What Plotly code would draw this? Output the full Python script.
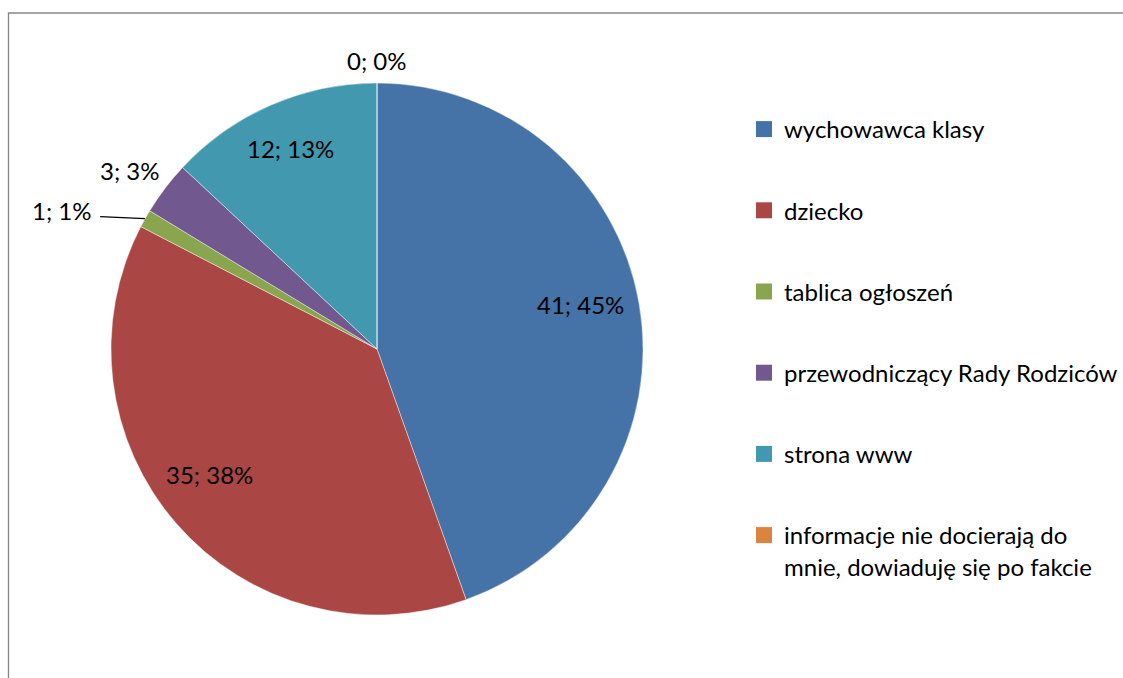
import math
import plotly.graph_objects as go

# ---- data ----
categories = [
    "wychowawca klasy",
    "dziecko",
    "tablica ogłoszeń",
    "przewodniczący Rady Rodziców",
    "strona www",
    "informacje nie docierają do<br>mnie, dowiaduję się po fakcie",
]
values = [41, 35, 1, 3, 12, 0]
colors = ["#4572A7", "#AA4643", "#89A54E", "#71588F", "#4198AF", "#DB843D"]

# ---- styling / layout ----
W, H = 1123, 678
cx, cy, R = 377, 349, 266
FONT = "Lato"
FS = 24
label_r = [0.775, 0.79, None, 1.15, 0.82, 1.08]   # None -> leader line label
label_nudge = [(0, -9), (-9, -13), (0, -3), (-3, 6), (0, 0), (0, -1)]  # pixel nudges

total = sum(values)

def px2paper(x, y):
    return x / W, 1 - y / H

fig = go.Figure()
fig.add_trace(go.Pie(
    labels=categories, values=values, sort=False, direction="clockwise",
    rotation=0, textinfo="none", hoverinfo="label+value+percent",
    marker=dict(colors=colors, line=dict(color="rgba(255,255,255,0.6)", width=0.7)),
    domain=dict(x=[(cx - R) / W, (cx + R) / W], y=[1 - (cy + R) / H, 1 - (cy - R) / H]),
    showlegend=False,
))

# legend via dummy traces (one group each for spacing)
for i, (c, col) in enumerate(zip(categories, colors)):
    fig.add_trace(go.Scatter(
        x=[None], y=[None], mode="markers", name=c, legendgroup=f"g{i}",
        marker=dict(symbol="square", size=16, color=col),
    ))

annotations = []
shapes = []
cum = 0
for v, rf, (ndx, ndy) in zip(values, label_r, label_nudge):
    theta = (cum + v / 2) / total * 2 * math.pi
    cum += v
    pct = round(v / total * 100)
    txt = f"{v}; {pct}%"
    if rf is None:
        ex = cx + R * math.sin(theta)
        ey = cy - R * math.cos(theta)
        lx = ex - 45
        ax_, ay_ = px2paper(ex, ey)
        bx_, by_ = px2paper(lx, ey - 2)
        shapes.append(dict(type="line", xref="paper", yref="paper", x0=ax_, y0=ay_,
                           x1=bx_, y1=by_, line=dict(color="black", width=1.3)))
        tx, ty = px2paper(lx - 6 + ndx, ey - 5 + ndy)
        annotations.append(dict(x=tx, y=ty, xref="paper", yref="paper", text=txt,
                                showarrow=False, xanchor="right", yanchor="middle",
                                font=dict(family=FONT, size=FS, color="black")))
    else:
        x = cx + rf * R * math.sin(theta) + ndx
        y = cy - rf * R * math.cos(theta) + ndy
        tx, ty = px2paper(x, y)
        annotations.append(dict(x=tx, y=ty, xref="paper", yref="paper", text=txt,
                                showarrow=False, xanchor="center", yanchor="middle",
                                font=dict(family=FONT, size=FS, color="black")))

# chart area border (top and left edges visible)
bx0, by0 = px2paper(8.5, 13)
bx1, by1 = px2paper(1140, 700)
shapes.append(dict(type="rect", xref="paper", yref="paper", x0=bx0, y0=by0, x1=bx1, y1=by1,
                   line=dict(color="#868686", width=1.3), layer="below"))

lx, ly = px2paper(744, 107)
fig.update_layout(
    width=W, height=H,
    margin=dict(l=0, r=0, t=0, b=0),
    paper_bgcolor="white", plot_bgcolor="white",
    xaxis=dict(visible=False), yaxis=dict(visible=False),
    font=dict(family=FONT, size=FS, color="black"),
    legend=dict(x=lx, y=ly, xanchor="left", yanchor="top", tracegroupgap=47,
                valign="top", font=dict(family=FONT, size=FS, color="black"),
                bgcolor="rgba(0,0,0,0)", itemsizing="trace"),
    annotations=annotations, shapes=shapes,
)

fig.write_html(
    "out.html",
    config={"displayModeBar": False},
    post_script="document.body.style.margin='0';document.body.style.overflow='hidden';",
)
